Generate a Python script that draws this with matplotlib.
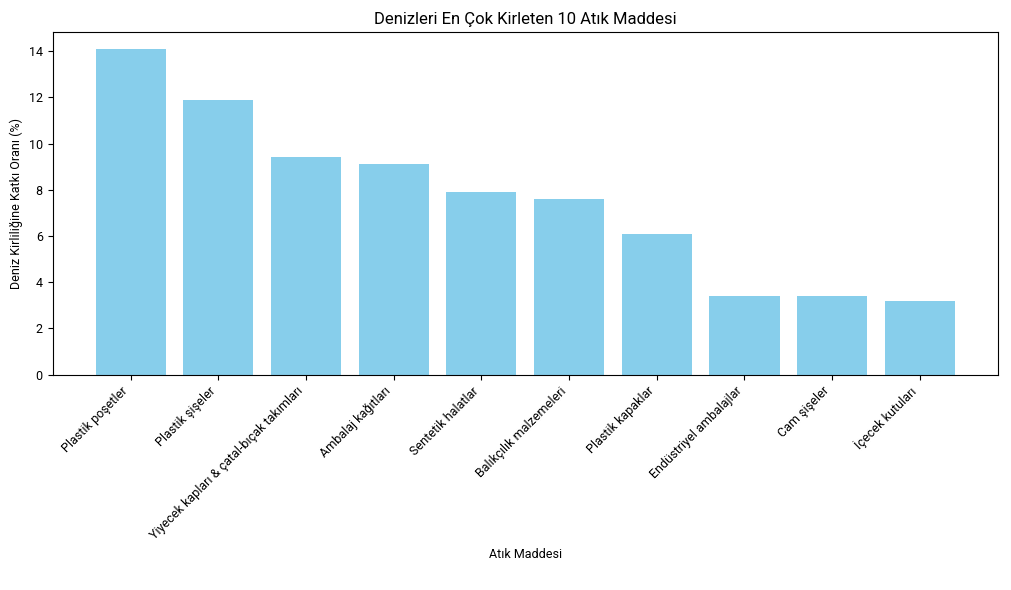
import matplotlib
matplotlib.use("Agg")
import matplotlib.pyplot as plt

# Data
categories = ["Plastik poşetler", "Plastik şişeler",
              "Yiyecek kapları & çatal-bıçak takımları", "Ambalaj kağıtları",
              "Sentetik halatlar", "Balıkçılık malzemeleri", "Plastik kapaklar",
              "Endüstriyel ambalajlar", "Cam şişeler", "İçecek kutuları"]
percent = [14.1, 11.9, 9.4, 9.1, 7.9, 7.6, 6.1, 3.4, 3.4, 3.2]

plt.rcParams["font.family"] = ["Roboto", "DejaVu Sans"]

fig = plt.figure(figsize=(10.11, 5.9), dpi=100)
ax = fig.add_axes([0.052, 0.365, 0.935, 0.58])
ax.bar(categories, percent, color="skyblue")
ax.set_title("Denizleri En Çok Kirleten 10 Atık Maddesi", fontsize=12)
ax.set_xlabel("Atık Maddesi", fontsize=9)
ax.set_ylabel("Deniz Kirliliğine Katkı Oranı (%)", fontsize=9)
plt.xticks(rotation=45, ha="right", fontsize=9)
plt.yticks(fontsize=9)
fig.savefig("out.png", dpi=100)
